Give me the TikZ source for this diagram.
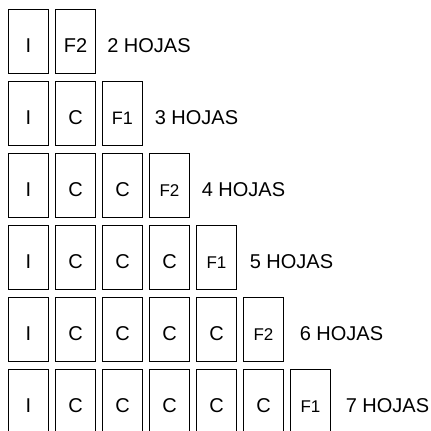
\documentclass[tikz,border=0pt]{standalone}
\usepackage{fontspec}
\setmainfont{Liberation Sans}
\usetikzlibrary{positioning}

\begin{document}
\begin{tikzpicture}[x=1pt, y=1pt,
    hoja/.style={rectangle, draw, line width=1.3pt, outer sep=0pt, minimum width=40.5pt, minimum height=64.5pt, inner sep=0pt, text height=22pt, text depth=0pt, font=\fontsize{20}{24}\selectfont},
    fin/.style={hoja, font=\fontsize{17}{20}\selectfont},
    total/.style={inner sep=0pt, outer sep=0pt, text height=22pt, text depth=0pt, font=\fontsize{20}{24}\selectfont}
]
\useasboundingbox (0,0) rectangle (431,-431);
% 2 hojas
\node[hoja] (i2) at (28.5,-41.5) {I};
\node[hoja, right=6.5pt of i2] (f2) {F2};
\node[total, right=11.5pt of f2] (h2) {2 HOJAS};
% 3 hojas
\node[hoja] (i3) at (28.5,-113.5) {I};
\node[hoja, right=6.5pt of i3] (c3a) {C};
\node[fin, right=6.5pt of c3a, font=\fontsize{18}{22}\selectfont] (f3) {F1};
\node[total, right=12pt of f3] (h3) {3 HOJAS};
% 4 hojas
\node[hoja] (i4) at (28.5,-185.5) {I};
\node[hoja, right=6.5pt of i4] (c4a) {C};
\node[hoja, right=6.5pt of c4a] (c4b) {C};
\node[fin, right=6.5pt of c4b] (f4) {F2};
\node[total, right=12pt of f4] (h4) {4 HOJAS};
% 5 hojas
\node[hoja] (i5) at (28.5,-257.5) {I};
\node[hoja, right=6.5pt of i5] (c5a) {C};
\node[hoja, right=6.5pt of c5a] (c5b) {C};
\node[hoja, right=6.5pt of c5b] (c5c) {C};
\node[fin, right=6.5pt of c5c] (f5) {F1};
\node[total, right=13pt of f5] (h5) {5 HOJAS};
% 6 hojas
\node[hoja] (i6) at (28.5,-329.5) {I};
\node[hoja, right=6.5pt of i6] (c6a) {C};
\node[hoja, right=6.5pt of c6a] (c6b) {C};
\node[hoja, right=6.5pt of c6b] (c6c) {C};
\node[hoja, right=6.5pt of c6c] (c6d) {C};
\node[fin, right=6.5pt of c6d] (f6) {F2};
\node[total, right=16pt of f6] (h6) {6 HOJAS};
% 7 hojas
\node[hoja] (i7) at (28.5,-401.5) {I};
\node[hoja, right=6.5pt of i7] (c7a) {C};
\node[hoja, right=6.5pt of c7a] (c7b) {C};
\node[hoja, right=6.5pt of c7b] (c7c) {C};
\node[hoja, right=6.5pt of c7c] (c7d) {C};
\node[hoja, right=6.5pt of c7d] (c7e) {C};
\node[fin, right=6.5pt of c7e] (f7) {F1};
\node[total, right=15pt of f7] (h7) {7 HOJAS};
\end{tikzpicture}
\end{document}
